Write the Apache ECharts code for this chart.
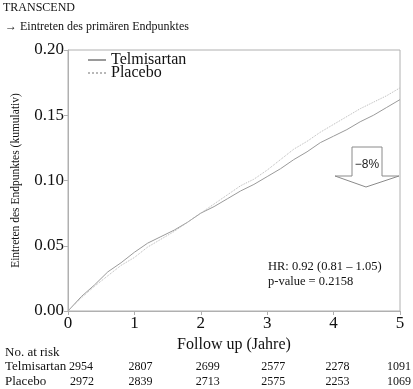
<!DOCTYPE html>
<html><head><meta charset="utf-8">
<script src="https://cdn.jsdelivr.net/npm/echarts@6/dist/echarts.min.js"></script>
<style>html,body{margin:0;padding:0;background:#fff}#c{width:413px;height:389px}</style>
</head><body><div id="c"></div>
<script>
var years = [0,0.2,0.4,0.6,0.8,1.0,1.2,1.4,1.6,1.8,2.0,2.2,2.4,2.6,2.8,3.0,3.2,3.4,3.6,3.8,4.0,4.2,4.4,4.6,4.8,5.0];
var telmisartan = [0,0.011,0.020,0.030,0.037,0.045,0.052,0.057,0.062,0.068,0.075,0.080,0.086,0.092,0.097,0.103,0.109,0.116,0.122,0.129,0.134,0.139,0.145,0.150,0.156,0.162];
var placebo = [0,0.010,0.019,0.027,0.035,0.041,0.049,0.055,0.061,0.068,0.075,0.082,0.089,0.096,0.101,0.108,0.116,0.124,0.130,0.137,0.143,0.149,0.155,0.160,0.165,0.171];
var riskYears = [0,1,2,3,4,5];
var riskTelmisartan = [2954,2807,2699,2577,2278,1091];
var riskPlacebo = [2972,2839,2713,2575,2253,1069];
var seriesNames = ['Telmisartan','Placebo'];

var serif = 'Liberation Serif';
var chart = echarts.init(document.getElementById('c'));
function pairs(xs, ys){ return xs.map(function(x,i){return [x, ys[i]];}); }

chart.setOption({
  animation: false,
  grid: {left: 68, right: 13, top: 50, bottom: 78, show: true, borderColor: '#b0b0b0', borderWidth: 1},
  legend: {
    left: 82, top: 47, orient: 'vertical', itemWidth: 18, itemHeight: 8, itemGap: -3,
    itemStyle: {opacity: 0, color: 'rgba(0,0,0,0)', borderWidth: 0},
    textStyle: {fontFamily: serif, fontSize: 16, color: '#111', lineHeight: 13},
    data: seriesNames
  },
  xAxis: {
    type: 'value', min: 0, max: 5, interval: 1,
    axisLine: {show: true, lineStyle: {color: '#b0b0b0'}},
    axisTick: {show: true, length: 4, lineStyle: {color: '#b0b0b0'}},
    splitLine: {show: false},
    axisLabel: {fontFamily: serif, fontSize: 17, color: '#111', margin: 4},
    name: 'Follow up (Jahre)', nameLocation: 'middle', nameGap: 26,
    nameTextStyle: {fontFamily: serif, fontSize: 16, color: '#111'}
  },
  yAxis: {
    type: 'value', min: 0, max: 0.2, interval: 0.05,
    axisLine: {show: true, lineStyle: {color: '#b0b0b0'}},
    axisTick: {show: true, length: 4, lineStyle: {color: '#b0b0b0'}},
    splitLine: {show: false},
    axisLabel: {fontFamily: serif, fontSize: 17, color: '#111', margin: 4,
      formatter: function(v){ return v.toFixed(2); }},
    name: 'Eintreten des Endpunktes (kumulativ)', nameLocation: 'middle', nameGap: 46,
    nameTextStyle: {fontFamily: serif, fontSize: 11.5, color: '#111'}
  },
  series: [
    {name: seriesNames[0], type: 'line', symbol: 'none', data: pairs(years, telmisartan),
     lineStyle: {color: '#9a9a9a', width: 1, type: 'solid'}, itemStyle: {color: '#9a9a9a'}},
    {name: seriesNames[1], type: 'line', symbol: 'none', data: pairs(years, placebo),
     lineStyle: {color: '#b8b8b8', width: 1, type: 'dotted'}, itemStyle: {color: '#b8b8b8'}}
  ]
});

var colOffset = [13, 6, 7, 6, 4, -1];
var g = [
  {type: 'text', left: 3, top: 2, style: {text: 'TRANSCEND', font: '12px "Liberation Serif"', fill: '#111'}},
  {type: 'text', left: 5, top: 21, style: {text: '\u2192 Eintreten des prim\u00e4ren Endpunktes', font: '12px "Liberation Serif"', fill: '#111'}},
  {type: 'text', left: 268, top: 259, style: {text: 'HR: 0.92 (0.81 \u2013 1.05)\np-value = 0.2158', font: '12.5px "Liberation Serif"', fill: '#111', lineHeight: 15}},
  {type: 'polygon', shape: {points: [[352,147],[382,147],[382,176],[399,176],[366,187],[335,176],[352,176]]},
   style: {fill: '#fff', stroke: '#8a8a8a', lineWidth: 1}},
  {type: 'text', x: 367, y: 165, style: {text: '\u22128%', font: '12px "Liberation Sans"', fill: '#222', align: 'center', verticalAlign: 'middle'}},
  {type: 'text', left: 5, top: 346, style: {text: 'No. at risk', font: '13px "Liberation Serif"', fill: '#111'}},
  {type: 'text', left: 5, top: 360, style: {text: 'Telmisartan', font: '13px "Liberation Serif"', fill: '#111'}},
  {type: 'text', left: 5, top: 375, style: {text: 'Placebo', font: '13px "Liberation Serif"', fill: '#111'}}
];
riskYears.forEach(function(yr, i){
  var px = chart.convertToPixel({xAxisIndex: 0}, yr) + colOffset[i];
  g.push({type: 'text', x: px, y: 367, style: {text: String(riskTelmisartan[i]), font: '12px "Liberation Serif"', fill: '#111', align: 'center', verticalAlign: 'middle'}});
  g.push({type: 'text', x: px + (i === 0 ? 1 : 0), y: 382, style: {text: String(riskPlacebo[i]), font: '12px "Liberation Serif"', fill: '#111', align: 'center', verticalAlign: 'middle'}});
});
chart.setOption({graphic: g});
</script></body></html>
